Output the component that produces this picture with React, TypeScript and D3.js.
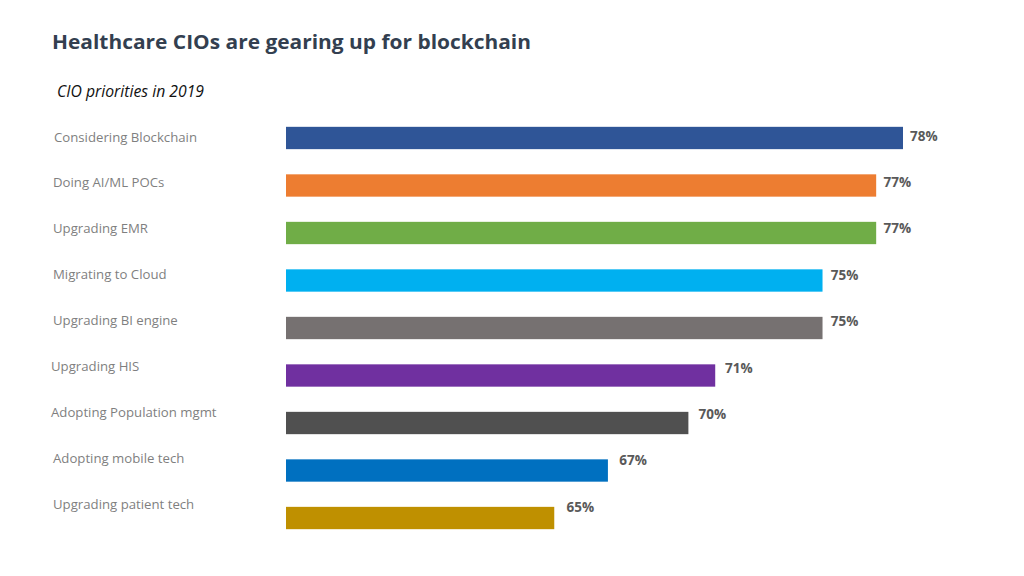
import React from "react";
import * as d3 from "d3";

const categories = [
  "Considering Blockchain",
  "Doing AI/ML POCs",
  "Upgrading EMR",
  "Migrating to Cloud",
  "Upgrading BI engine",
  "Upgrading HIS",
  "Adopting Population mgmt",
  "Adopting mobile tech",
  "Upgrading patient tech",
];
const values = [78, 77, 77, 75, 75, 71, 70, 67, 65];
const colors = [
  "#2F5597",
  "#ED7D31",
  "#70AD47",
  "#00B0F0",
  "#767171",
  "#7030A0",
  "#505050",
  "#0070C0",
  "#BF9000",
];
const labelOffsetX = [54, 53, 53, 53, 53, 51, 51, 53, 53];

const W = 1024;
const H = 576;

export default function App() {
  const x = d3.scaleLinear().domain([55, 78]).range([286, 903]);
  const y = d3
    .scaleBand<string>()
    .domain(categories)
    .range([114, 542])
    .paddingInner(0.53)
    .paddingOuter(0.27);
  const yLab = d3
    .scalePoint<string>()
    .domain(categories)
    .range([137, 504]);
  const font = "'Open Sans', 'Liberation Sans', sans-serif";
  return (
    <svg
      width={W}
      height={H}
      style={{ position: "absolute", left: 0, top: 0, background: "#fff" }}
    >
      <text
        x={52}
        y={49}
        fontFamily={font}
        fontWeight={700}
        fontSize={19.5}
        fill="#333F50"
        textLength={479}
        lengthAdjust="spacingAndGlyphs"
      >
        Healthcare CIOs are gearing up for blockchain
      </text>
      <text
        x={57}
        y={97}
        fontFamily={font}
        fontStyle="italic"
        fontSize={15.5}
        fill="#111"
        textLength={147}
        lengthAdjust="spacingAndGlyphs"
      >
        CIO priorities in 2019
      </text>
      {categories.map((c, i) => (
        <g key={c}>
          <text
            x={labelOffsetX[i]}
            y={yLab(c)!}
            dy="0.35em"
            fontFamily={font}
            fontSize={13.2}
            fill="#7F7F7F"
          >
            {c}
          </text>
          <rect
            x={x(55)}
            y={y(c)!}
            width={x(values[i]) - x(55)}
            height={y.bandwidth()}
            fill={colors[i]}
          />
          <text
            x={x(values[i]) + 7 + (78 - values[i]) * 0.4}
            y={y(c)! + 9 - i * 1.1}
            dy="0.35em"
            fontFamily={font}
            fontWeight={700}
            fontSize={13.5}
            fill="#595959"
          >
            {values[i]}%
          </text>
        </g>
      ))}
    </svg>
  );
}
